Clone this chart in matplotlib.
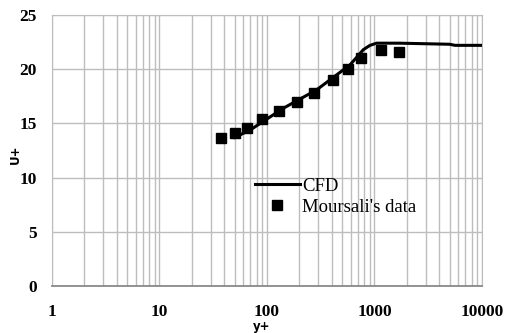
import numpy as np
import matplotlib.pyplot as plt
from matplotlib.ticker import LogLocator, FixedLocator, NullFormatter

plt.rcParams['font.family'] = 'Liberation Serif'

# CFD curve
cfd_y = [50, 70, 142, 290, 592, 787, 908, 1047, 1700, 5000, 5600, 10000]
cfd_u = [13.7, 14.4, 16.4, 18.1, 20.4, 21.8, 22.2, 22.4, 22.4, 22.3, 22.2, 22.2]

# Moursali's data
exp_y = [37, 50, 65, 89, 130, 189, 274, 408, 571, 749, 1142, 1700]
exp_u = [13.7, 14.1, 14.55, 15.4, 16.15, 16.95, 17.8, 19.0, 20.0, 21.0, 21.8, 21.55]

xticks = [1, 10, 100, 1000, 10000]
yticks = [0, 5, 10, 15, 20, 25]

fig = plt.figure(figsize=(5.09, 3.33), dpi=100)
ax = fig.add_axes([0.102, 0.141, 0.845, 0.814])

ax.plot(cfd_y, cfd_u, color='black', lw=2.2, label='CFD', zorder=3)
ax.plot(exp_y, exp_u, 's', color='black', ms=7, label="Moursali's data", zorder=4)

ax.set_xscale('log')
ax.set_xlim(1, 10000)
ax.set_ylim(0, 25)
ax.xaxis.set_major_locator(FixedLocator(xticks))
ax.xaxis.set_minor_locator(LogLocator(base=10, subs=np.arange(2, 10)))
ax.xaxis.set_minor_formatter(NullFormatter())
ax.set_xticks(xticks)
ax.set_xticklabels([str(t) for t in xticks])
ax.set_yticks(yticks)
ax.set_yticklabels([str(t) for t in yticks])

ax.grid(True, which='major', color='#bdbdbd', lw=1)
ax.grid(True, which='minor', axis='x', color='#bdbdbd', lw=1)
ax.set_axisbelow(True)
ax.tick_params(which='both', length=0)
ax.tick_params(axis='x', pad=13)
ax.tick_params(axis='y', pad=11)
for lbl in ax.get_xticklabels() + ax.get_yticklabels():
    lbl.set_fontweight('bold')
    lbl.set_fontsize(12.5)

for s in ['top', 'right', 'left']:
    ax.spines[s].set_color('#bdbdbd')
ax.spines['bottom'].set_color('#808080')
ax.spines['bottom'].set_linewidth(1.2)

ax.set_xlabel('y+', family='DejaVu Sans', fontweight='bold', fontsize=8.5)
ax.set_ylabel('U+', family='DejaVu Sans', fontweight='bold', fontsize=8.5)
ax.xaxis.set_label_coords(0.488, -0.125)
ax.yaxis.set_label_coords(-0.07, 0.487)

ax.legend(loc='upper left', bbox_to_anchor=(0.472, 0.40), frameon=False,
          handlelength=2.4, handletextpad=0.12, labelspacing=0.2,
          borderpad=0, borderaxespad=0, fontsize=13.5)

fig.savefig('out.png', dpi=100)
